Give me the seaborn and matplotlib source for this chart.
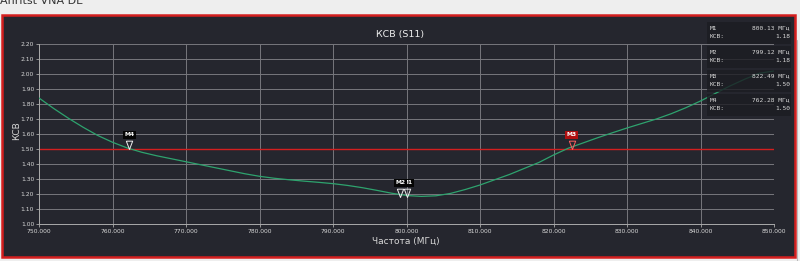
import matplotlib
matplotlib.use("Agg")
import matplotlib.pyplot as plt
import matplotlib.patches as mpatches
import seaborn as sns
import pandas as pd

# ---- data ----
freq_mhz = [750, 752, 754, 756, 758, 760, 762, 764, 766, 768, 770, 772, 774, 776, 778,
            780, 782, 784, 786, 788, 790, 792, 794, 796, 798, 800, 802, 804, 806, 808,
            810, 812, 814, 816, 818, 820, 822, 824, 826, 828, 830, 832, 834, 836, 838,
            840, 842, 844, 846, 848, 850]
vswr = [1.84, 1.77, 1.705, 1.645, 1.59, 1.545, 1.507, 1.478, 1.455, 1.435, 1.415, 1.395, 1.375, 1.355, 1.335,
        1.318, 1.305, 1.295, 1.286, 1.278, 1.269, 1.257, 1.242, 1.224, 1.205, 1.19, 1.184, 1.188, 1.204, 1.23,
        1.26, 1.295, 1.33, 1.37, 1.41, 1.46, 1.505, 1.54, 1.575, 1.608, 1.64, 1.67, 1.70, 1.735, 1.775,
        1.82, 1.87, 1.92, 1.965, 2.005, 2.02]
marker_names = ["M1", "M2", "M3", "M4"]
marker_freq = [800.13, 799.12, 822.49, 762.28]
marker_vswr = [1.18, 1.18, 1.50, 1.50]
limit_line = 1.50
x_ticks = [750, 760, 770, 780, 790, 800, 810, 820, 830, 840, 850]
y_ticks = [1.00, 1.10, 1.20, 1.30, 1.40, 1.50, 1.60, 1.70, 1.80, 1.90, 2.00, 2.10, 2.20]
title = "КСВ (S11)"
x_label = "Частота (МГц)"
y_label = "КСВ"

# ---- style ----
sns.set_style("dark")
plt.rcParams["font.family"] = ["DejaVu Sans"]
BG = "#25262e"
GRID = "#77777d"
TXT = "#d8d8d8"
GREEN = "#2ea36e"
RED = "#d41f1f"

W, H = 800, 261
fig = plt.figure(figsize=(W / 100, H / 100), dpi=100)
fig.patch.set_facecolor("#eeeeee")

def fx(px):
    return px / W

def fy(py):
    return 1 - py / H

# dark instrument panel with red frame
fig.patches.append(mpatches.Rectangle((fx(2), fy(257)), fx(793), (257 - 15) / H,
                                      transform=fig.transFigure, facecolor=BG,
                                      edgecolor=RED, linewidth=1.8, zorder=-5))
fig.lines.append(plt.Line2D([fx(797), fx(797)], [fy(40), fy(261)], transform=fig.transFigure,
                            color="#bbbbbb", linewidth=0.8, zorder=-5))
fig.text(fx(0), fy(1), "Anritst VNA DE", fontsize=8, color="#333333", ha="left", va="center")

ax = fig.add_axes([fx(39), fy(224), fx(774 - 39), (224 - 44) / H])
ax.set_zorder(1)
ax.set_facecolor(BG)

df = pd.DataFrame({"freq": freq_mhz, "vswr": vswr})
sns.lineplot(data=df, x="freq", y="vswr", ax=ax, color=GREEN, linewidth=0.9, zorder=3)
ax.axhline(limit_line, color=RED, linewidth=1.0, zorder=2)

ax.set_xlim(750, 850)
ax.set_ylim(1.0, 2.2)
ax.set_xticks(x_ticks)
ax.set_xticklabels([f"{t:.3f}" for t in x_ticks])
ax.set_yticks(y_ticks)
ax.set_yticklabels([f"{t:.2f}" for t in y_ticks])
ax.tick_params(axis="both", colors="#aaaaaa", labelcolor=TXT, labelsize=4.3,
               length=2, width=0.6, pad=1.5, direction="out",
               bottom=True, left=True)
ax.grid(True, color=GRID, linewidth=0.7, zorder=1)
ax.set_axisbelow(True)
for side in ["top", "right"]:
    ax.spines[side].set_visible(False)
for side in ["left", "bottom"]:
    ax.spines[side].set_visible(True)
    ax.spines[side].set_color("#aaaaaa")
    ax.spines[side].set_linewidth(0.7)
ax.set_xlabel("")
ax.set_ylabel("")

fig.text(fx(400), fy(34), title, fontsize=6.8, color="#eeeeee", ha="center", va="center")
fig.text(fx(17), fy(131), y_label, fontsize=6.5, color=TXT, ha="center", va="center", rotation=90)
fig.text(fx(406), fy(241), x_label, fontsize=6.5, color=TXT, ha="center", va="center")

# markers: downward triangle with tip on the trace
tri = [(-0.38, 1.0), (0.38, 1.0), (0.0, 0.0), (-0.38, 1.0)]
for i in range(len(marker_names)):
    name, f, v = marker_names[i], marker_freq[i], marker_vswr[i]
    is_ref = name == "M3"
    ax.plot([f], [v], marker=tri, markersize=12, markerfacecolor="none",
            markeredgecolor="#ff6060" if is_ref else "#eeeeee", markeredgewidth=0.7,
            linestyle="none", zorder=5, clip_on=False)
    ax.annotate(name, (f, v), xytext=(0, 8.5), textcoords="offset points",
                ha="center", va="bottom", fontsize=4.3, fontweight="bold",
                color="#ffffff",
                bbox=dict(boxstyle="square,pad=0.25",
                          facecolor="#b01010" if is_ref else "#050505",
                          edgecolor="none"), zorder=6)

# marker readout panel (top right)
block_tops = [22, 46, 70, 94]
for i, top in enumerate(block_tops):
    fig.patches.append(mpatches.Rectangle((fx(707), fy(top + 22)), fx(84), 22 / H,
                                          transform=fig.transFigure, facecolor="#1b1c22",
                                          alpha=0.8, edgecolor="none", zorder=5))
    fig.text(fx(710), fy(top + 6), marker_names[i], fontsize=4.5, family="DejaVu Sans Mono",
             color=TXT, ha="left", va="center", zorder=6)
    fig.text(fx(790), fy(top + 6), f"{marker_freq[i]:.2f} МГц", fontsize=4.5,
             family="DejaVu Sans Mono", color=TXT, ha="right", va="center", zorder=6)
    fig.text(fx(710), fy(top + 15), "КСВ:", fontsize=4.5, family="DejaVu Sans Mono",
             color=TXT, ha="left", va="center", zorder=6)
    fig.text(fx(790), fy(top + 15), f"{marker_vswr[i]:.2f}", fontsize=4.5,
             family="DejaVu Sans Mono", color=TXT, ha="right", va="center", zorder=6)

fig.savefig("out.png", dpi=100, facecolor=fig.get_facecolor())
